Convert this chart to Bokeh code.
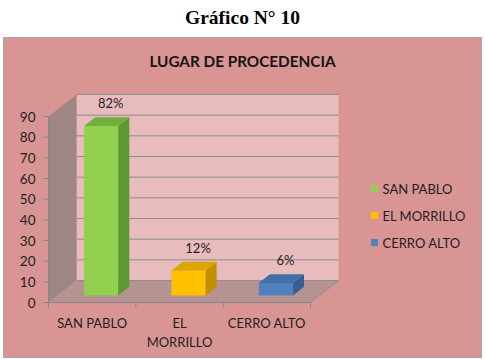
from bokeh.plotting import figure
from bokeh.models import Range1d, ColumnDataSource
from bokeh.embed import file_html
from bokeh.resources import INLINE
from bokeh.core.properties import value

# ---------------- data ----------------
categories = ["SAN PABLO", "EL\nMORRILLO", "CERRO ALTO"]
legend_labels = ["SAN PABLO", "EL MORRILLO", "CERRO ALTO"]
values = [82, 12, 6]
value_labels = ["82%", "12%", "6%"]
y_ticks = [0, 10, 20, 30, 40, 50, 60, 70, 80, 90]
front_colors = ["#92D050", "#FFC000", "#4F81BD"]
side_colors = ["#5E9830", "#BF9000", "#355E91"]
top_colors = ["#72B03E", "#DCA500", "#416FA8"]

# ---------------- layout helpers ----------------
W, H = 485, 359
X0_PX, X_PX = 48.0, 87.33          # px of x=0, px per category
Y0_PX, Y_PX = 302.0, 186.0 / 90.0  # px of value 0, px per unit


def px2x(px):
    return (px - X0_PX) / X_PX


def px2y(py):
    return (Y0_PX - py) / Y_PX


FONT = value("Lato")
TXT = "#1E1E1E"
n = len(categories)
ymax = y_ticks[-1]
DX, DY = 28 / X_PX, 22 / Y_PX       # depth of the 3D box
OX, OY = 0.32 * DX, 0.32 * DY       # bar front offset inside depth
BDX, BDY = 0.40 * DX, 0.40 * DY     # bar depth
BW = 34 / X_PX                      # bar width

p = figure(width=W, height=H,
           x_range=Range1d(px2x(0), px2x(W)),
           y_range=Range1d(px2y(H), px2y(0)),
           x_axis_location=None, y_axis_location=None,
           min_border=0, output_backend="svg", toolbar_location=None)
p.grid.visible = False
p.outline_line_color = None
p.background_fill_color = "white"
p.border_fill_color = "white"

# outer chart area
p.quad(left=px2x(3), right=px2x(481), bottom=px2y(357), top=px2y(37),
       fill_color="#D99594", line_color="#A6A6A6", line_width=1)

# page title and chart title
p.text(x=[px2x(242)], y=[px2y(17)], text=["Gráfico N° 10"],
       text_font=value("Liberation Serif"), text_font_style="bold",
       text_font_size="19.5px", text_align="center", text_baseline="middle",
       text_color="black")
p.text(x=[px2x(242)], y=[px2y(60)], text=["LUGAR DE PROCEDENCIA"],
       text_font=FONT, text_font_style="bold", text_font_size="15.3px",
       text_align="center", text_baseline="middle", text_color="#141414")

# back wall
p.quad(left=DX, right=n + DX, bottom=DY, top=ymax + DY,
       fill_color="#E8BCBC", line_color=None)
# left wall
p.patch(x=[0, DX, DX, 0], y=[0, DY, ymax + DY, ymax],
        fill_color="#A08585", line_color=None)
# floor
p.patch(x=[0, n, n + DX, DX], y=[0, 0, DY, DY],
        fill_color="#B59393", line_color=None)

# gridlines on back wall
p.segment(x0=[DX] * len(y_ticks), y0=[t + DY for t in y_ticks],
          x1=[n + DX] * len(y_ticks), y1=[t + DY for t in y_ticks],
          line_color="#8E8E8E", line_width=1)
# floor right edge
p.segment(x0=[n], y0=[0], x1=[n + DX], y1=[DY], line_color="#8E8E8E", line_width=1)

# y axis
p.segment(x0=[0], y0=[0], x1=[0], y1=[ymax], line_color="#868686", line_width=1)
p.segment(x0=[px2x(43)] * len(y_ticks), y0=y_ticks,
          x1=[0] * len(y_ticks), y1=y_ticks, line_color="#868686", line_width=1)
p.text(x=[px2x(35)] * len(y_ticks), y=y_ticks, text=[str(t) for t in y_ticks],
       text_font=FONT, text_font_size="13.5px", text_align="right",
       text_baseline="middle", text_color=TXT)

# x axis
p.segment(x0=[0], y0=[0], x1=[n], y1=[0], line_color="#868686", line_width=1)
p.segment(x0=list(range(n + 1)), y0=[0] * (n + 1),
          x1=list(range(n + 1)), y1=[px2y(307)] * (n + 1),
          line_color="#868686", line_width=1)
p.text(x=[i + 0.5 for i in range(n)], y=[px2y(314)] * n, text=categories,
       text_font=FONT, text_font_size="13px", text_align="center",
       text_baseline="top", text_line_height=1.2, text_color=TXT)

# bars
fx, fy, sx, sy, tx, ty = [], [], [], [], [], []
for i, v in enumerate(values):
    c = i + 0.5 + OX
    l, r = c - BW / 2, c + BW / 2
    b, t = OY, v + OY
    fx.append([l, r, r, l]); fy.append([b, b, t, t])
    sx.append([r, r + BDX, r + BDX, r]); sy.append([b, b + BDY, t + BDY, t])
    tx.append([l, r, r + BDX, l + BDX]); ty.append([t, t, t + BDY, t + BDY])

src = ColumnDataSource(dict(fx=fx, fy=fy, sx=sx, sy=sy, tx=tx, ty=ty,
                            fc=front_colors, sc=side_colors, tc=top_colors))
p.patches(xs="sx", ys="sy", fill_color="sc", line_color=None, source=src)
p.patches(xs="tx", ys="ty", fill_color="tc", line_color=None, source=src)
p.patches(xs="fx", ys="fy", fill_color="fc", line_color=None, source=src)

# value labels
p.text(x=[i + 0.5 + OX + BDX / 2 for i in range(n)],
       y=[v + OY + BDY for v in values], text=value_labels,
       x_offset=4, y_offset=-6,
       text_font=FONT, text_font_size="13px", text_align="center",
       text_baseline="bottom", text_color=TXT)

# legend
leg_y = [px2y(188), px2y(215), px2y(242)]
p.scatter(x=[px2x(374)] * n, y=leg_y, marker="square", size=7,
          fill_color=front_colors, line_color=None)
p.text(x=[px2x(382)] * n, y=leg_y, text=legend_labels,
       text_font=FONT, text_font_size="13px", text_align="left",
       text_baseline="middle", text_color=TXT)

open("out.html", "w").write(file_html(p, INLINE))
